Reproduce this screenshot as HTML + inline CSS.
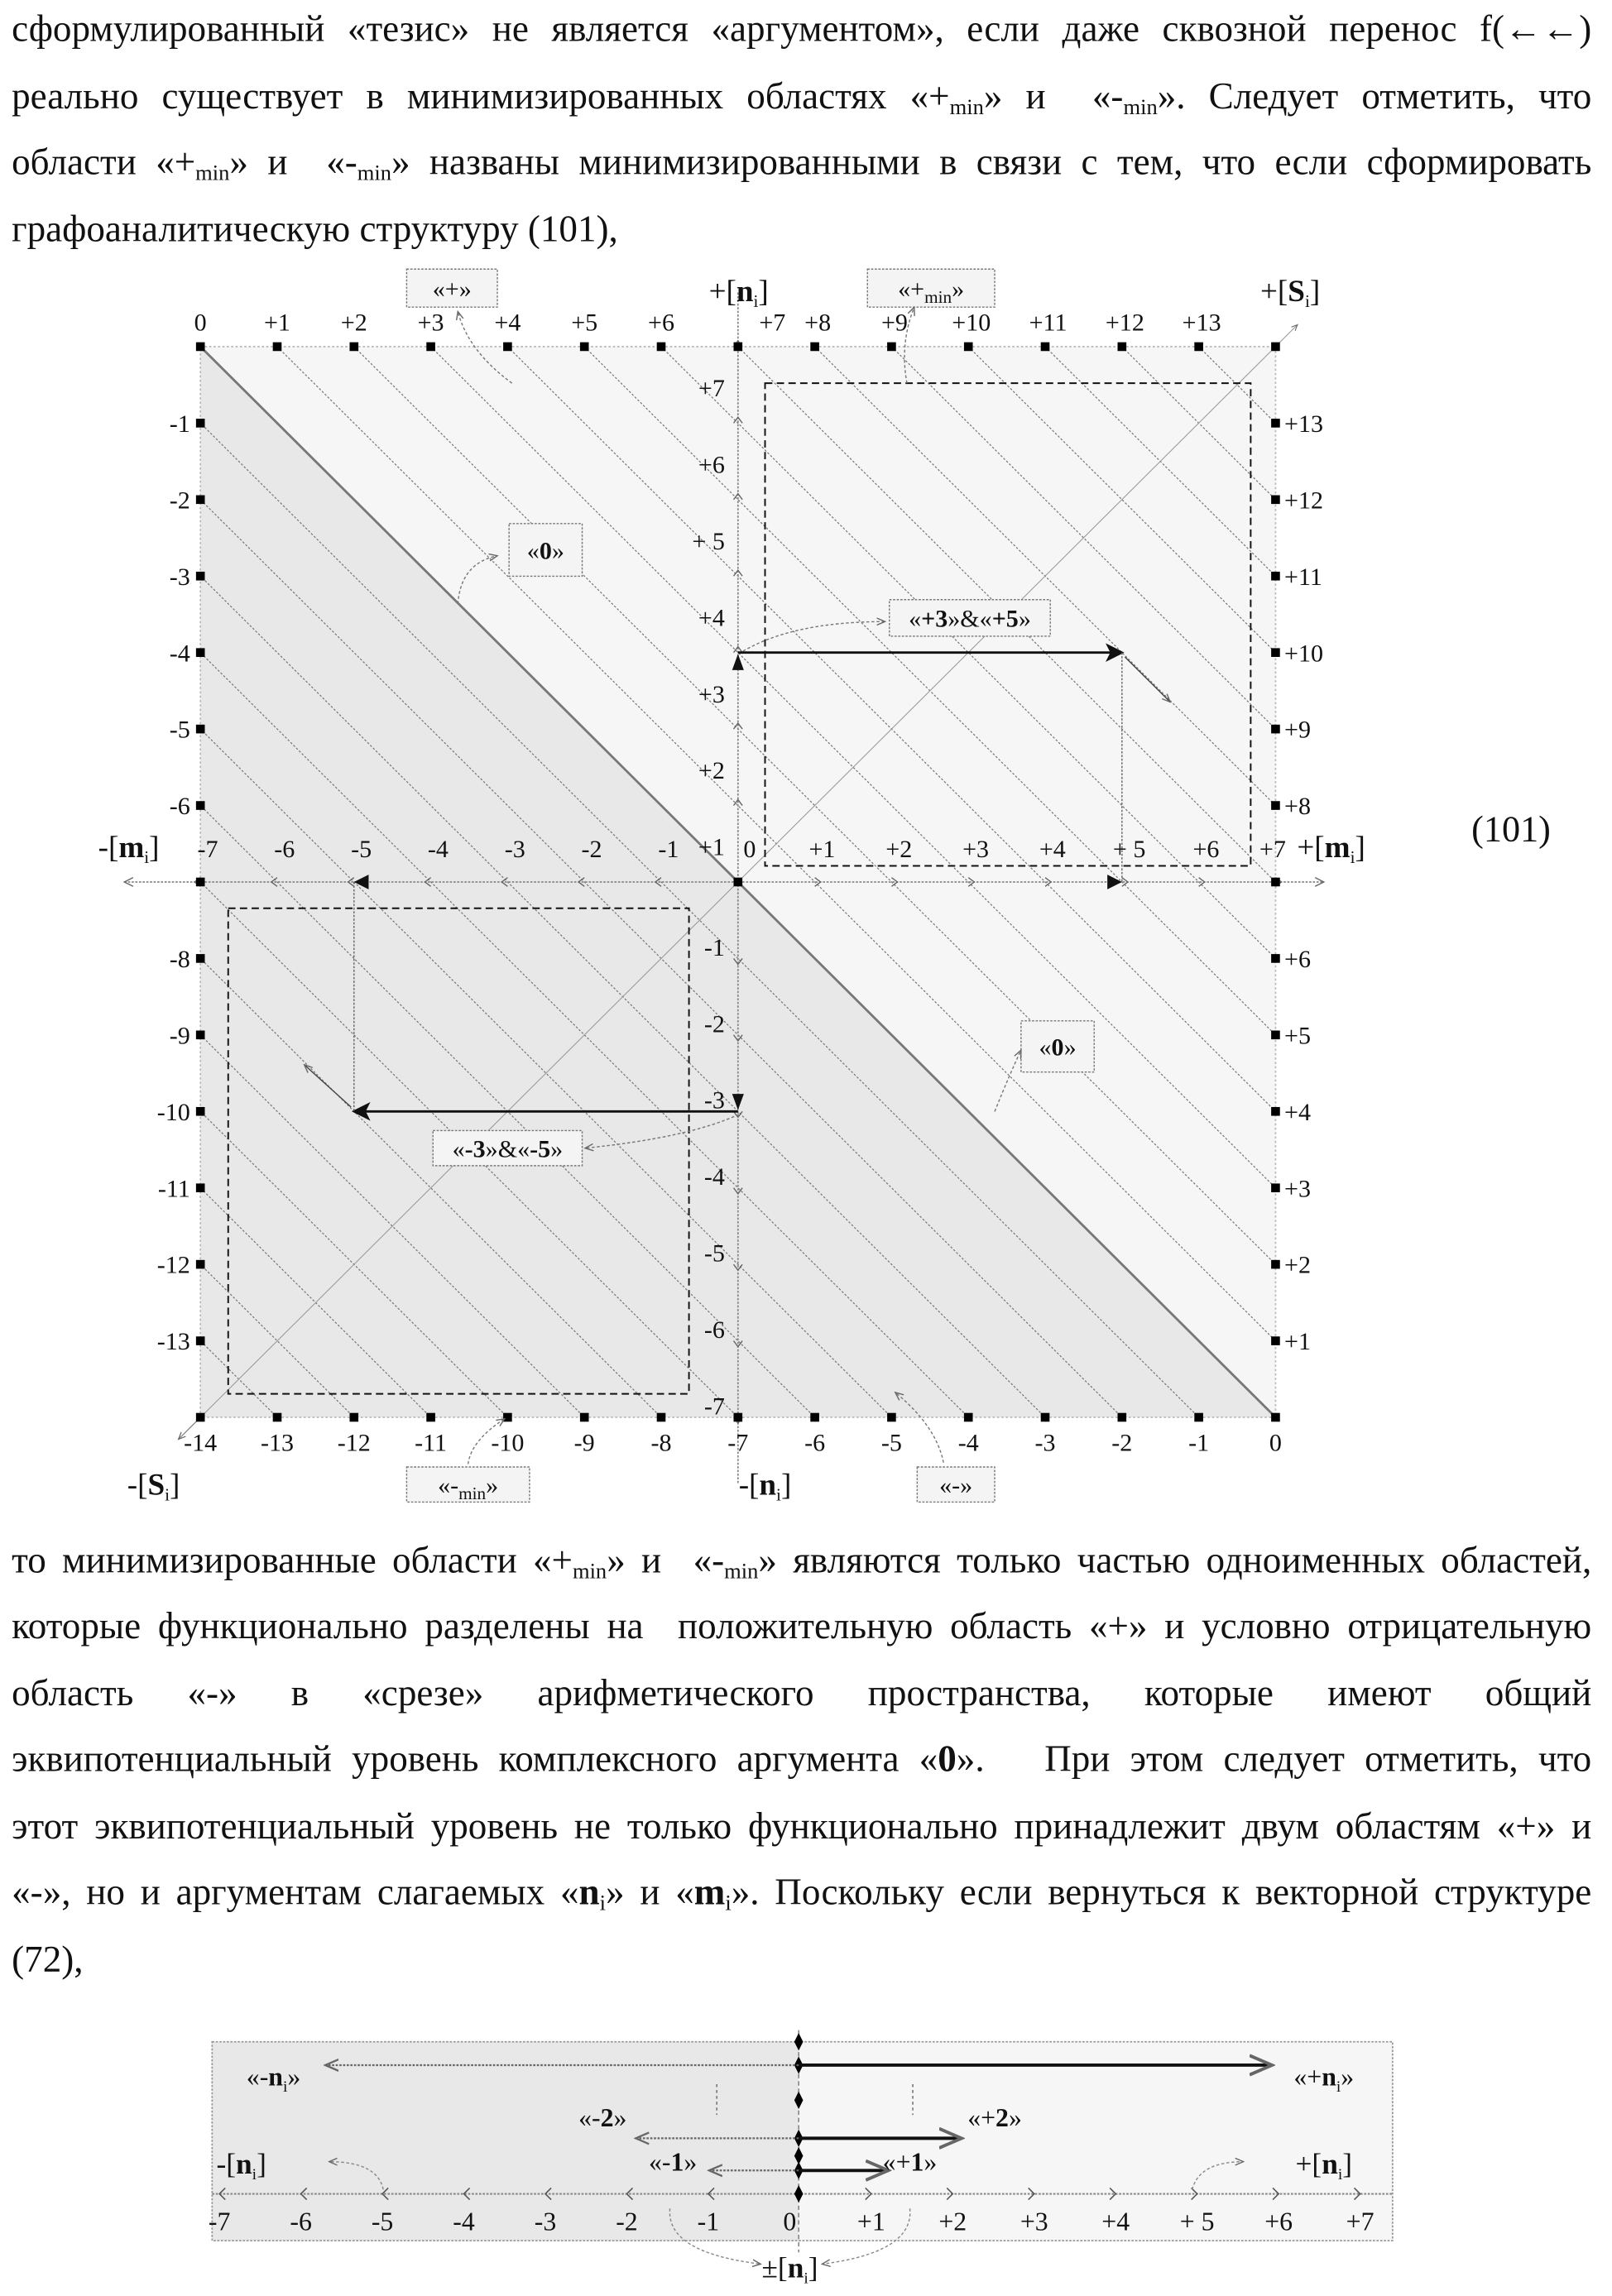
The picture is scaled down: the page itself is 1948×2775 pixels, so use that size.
<!DOCTYPE html>
<html><head><meta charset="utf-8">
<style>
html,body{margin:0;padding:0;background:#fff;}
#page{position:relative;width:1948px;height:2775px;overflow:hidden;background:#fff;}
#inner{position:absolute;left:0;top:0;width:1102px;height:1570px;transform:scale(1.7677);transform-origin:0 0;}
.ln{position:absolute;left:8px;width:1080px;font-family:"Liberation Serif",serif;font-size:25.5px;line-height:28px;color:#111;white-space:nowrap;text-align:justify;text-align-last:justify;}
.ln.nl{text-align-last:left;}
.ln sub{font-size:15px;vertical-align:-4px;line-height:0;}
svg text{font-family:"Liberation Serif",serif;fill:#111;}
</style></head><body>
<div id="page"><div id="inner">
<div class="ln" style="top:6px">сформулированный «тезис» не является «аргументом», если даже сквозной перенос f(←←)</div>
<div class="ln" style="top:52px">реально существует в минимизированных областях «+<sub>min</sub>» и &nbsp;«-<sub>min</sub>». Следует отметить, что</div>
<div class="ln" style="top:97px">области «+<sub>min</sub>» и &nbsp;«-<sub>min</sub>» названы минимизированными в связи с тем, что если сформировать</div>
<div class="ln nl" style="top:143px">графоаналитическую структуру (101),</div>

<div class="ln" style="top:1053px">то минимизированные области «+<sub>min</sub>» и &nbsp;«-<sub>min</sub>» являются только частью одноименных областей,</div>
<div class="ln" style="top:1098px">которые функционально разделены на &nbsp;положительную область «+» и условно отрицательную</div>
<div class="ln" style="top:1144px">область «-» в «срезе» арифметического пространства, которые имеют общий</div>
<div class="ln" style="top:1189px">эквипотенциальный уровень комплексного аргумента «<b>0</b>». &nbsp;&nbsp;При этом следует отметить, что</div>
<div class="ln" style="top:1235px">этот эквипотенциальный уровень не только функционально принадлежит двум областям «+» и</div>
<div class="ln" style="top:1280px">«-», но и аргументам слагаемых «<b>n</b><sub>i</sub>» и «<b>m</b><sub>i</sub>». Поскольку если вернуться к векторной структуре</div>
<div class="ln nl" style="top:1326px">(72),</div>

<svg id="chart" width="1102" height="1570" viewBox="0 0 1102 1570" style="position:absolute;left:0;top:0">
<defs>
<clipPath id="sq"><rect x="137" y="237" width="735" height="732"/></clipPath>
<marker id="ah" markerWidth="8" markerHeight="8" refX="7" refY="4" orient="auto"><path d="M0,0 L8,4 L0,8 L2,4z" fill="#111"/></marker>
<marker id="ahg" markerWidth="8" markerHeight="8" refX="7" refY="4" orient="auto"><path d="M0,1 L7,4 L0,7" fill="none" stroke="#666"/></marker>
</defs>
<g id="bg"></g><g id="hatch" clip-path="url(#sq)"></g><g id="fg"></g>
<text x="1033" y="575" font-size="25" text-anchor="middle">(101)</text>
</svg>

<svg id="fig2" width="1102" height="1570" viewBox="0 0 1102 1570" style="position:absolute;left:0;top:0"></svg>
</div></div>
<script>
// tick label arrays
const topLabels=["0","+1","+2","+3","+4","+5","+6","","+8","+9","+10","+11","+12","+13",""];
const bottomLabels=["-14","-13","-12","-11","-10","-9","-8","-7","-6","-5","-4","-3","-2","-1","0"];
const leftLabels=["","-1","-2","-3","-4","-5","-6","","-8","-9","-10","-11","-12","-13",""];
const rightLabels=["","+13","+12","+11","+10","+9","+8","","+6","+5","+4","+3","+2","+1",""];
const mLabels=["-7","-6","-5","-4","-3","-2","-1","0","+1","+2","+3","+4","+ 5","+6","+7"];
const nLabels=["+7","+6","+ 5","+4","+3","+2","+1","","-1","-2","-3","-4","-5","-6","-7"];
const nVec=3, mVec=5; // «+3»&«+5»
const axisLabels=["-7","-6","-5","-4","-3","-2","-1","0","+1","+2","+3","+4","+ 5","+6","+7"];
const vecLens=[7,2,1];

const NS="http://www.w3.org/2000/svg";
function el(p,t,a,txt){const e=document.createElementNS(NS,t);for(const k in a)e.setAttribute(k,a[k]);if(txt!==undefined)e.textContent=txt;p.appendChild(e);return e;}
const X0=137,Y0=237,DX=52.5,DY=52.29;
const X=i=>X0+i*DX, Y=j=>Y0+j*DY;
const bg=document.getElementById('bg'),hatch=document.getElementById('hatch'),fg=document.getElementById('fg');

let p=el(bg,'polygon',{points:`${X(0)},${Y(0)} ${X(14)},${Y(14)} ${X(0)},${Y(14)}`,fill:'#e8e8e8'});

p=el(bg,'polygon',{points:`${X(0)},${Y(0)} ${X(14)},${Y(0)} ${X(14)},${Y(14)}`,fill:'#f6f6f6'});

el(bg,'rect',{x:X(0),y:Y(0),width:X(14)-X(0),height:Y(14)-Y(0),fill:'none',stroke:'#bbb','stroke-width':1,'stroke-dasharray':'1.5 1.5'});
for(let k=-14;k<=14;k++){if(k===0)continue;
 const l=el(hatch,'line',{x1:X(k),y1:Y(0),x2:X(k+14),y2:Y(14),stroke:'#777','stroke-width':0.7,'stroke-dasharray':'1.5 1.2'});
 }
let d=el(fg,'line',{x1:X(0),y1:Y(0),x2:X(14),y2:Y(14),stroke:'#777','stroke-width':1.6});

d=el(fg,'line',{x1:X(0)-15,y1:Y(14)+15,x2:X(14)+15,y2:Y(0)-15,stroke:'#999','stroke-width':0.6,'marker-end':'url(#ahg)'});

el(fg,'line',{x1:X(0),y1:Y(14),x2:X(0)-15,y2:Y(14)+15,stroke:'#888','stroke-width':0.7,'marker-end':'url(#ahg)'});
// dashed boxes
d=el(fg,'rect',{x:523,y:262,width:332,height:330,fill:'none',stroke:'#111','stroke-width':1.1,'stroke-dasharray':'5 3'});

d=el(fg,'rect',{x:156,y:621,width:315,height:332,fill:'none',stroke:'#111','stroke-width':1.1,'stroke-dasharray':'5 3'});

// axes
d=el(fg,'line',{x1:85,y1:Y(7),x2:905,y2:Y(7),stroke:'#888','stroke-width':1,'stroke-dasharray':'1.5 1'});

d=el(fg,'line',{x1:X(7),y1:200,x2:X(7),y2:1015,stroke:'#888','stroke-width':1,'stroke-dasharray':'1.5 1'});

for(let i=0;i<=14;i++){ if(i===7)continue;
 const x=X(i)+(i<7?-4:4),s=i<7?1:-1;
 el(fg,'path',{d:`M${x+4*s},${Y(7)-3} L${x},${Y(7)} L${x+4*s},${Y(7)+3}`,fill:'none',stroke:'#666','stroke-width':0.8});
 const y=Y(i)+(i<7?-4:4);
 el(fg,'path',{d:`M${X(7)-3},${y+4*s} L${X(7)},${y} L${X(7)+3},${y+4*s}`,fill:'none',stroke:'#666','stroke-width':0.8});
}
el(fg,'path',{d:`M91,${Y(7)-3} L85,${Y(7)} L91,${Y(7)+3} M899,${Y(7)-3} L905,${Y(7)} L899,${Y(7)+3}`,fill:'none',stroke:'#666','stroke-width':0.8});
// markers
function mk(x,y,name){const r=el(fg,'rect',{x:x-3,y:y-3,width:6,height:6,fill:'#000'});}
for(let i=0;i<=14;i++){mk(X(i),Y(0),'top-marker');mk(X(i),Y(14),'bottom-marker');}
for(let j=1;j<14;j++){if(j===7)continue;mk(X(0),Y(j),'left-marker');mk(X(14),Y(j),'right-marker');}
mk(X(0),Y(7),'left-marker');mk(X(14),Y(7),'right-marker');mk(X(7),Y(7),'origin-marker');
// labels
function tx(x,y,s,txt,anchor,name){const t=el(fg,'text',{x:x,y:y,'font-size':s,'text-anchor':anchor||'middle'},txt);return t;}
topLabels.forEach((t,i)=>{if(t)tx(X(i)+(i>7?2:0),Y(0)-11,17,t,'middle','top-tick-label');});
tx(528,Y(0)-11,17,'+7','middle','top-tick-label');
bottomLabels.forEach((t,i)=>tx(X(i),Y(14)+23,17,t,'middle','bottom-tick-label'));
leftLabels.forEach((t,j)=>{if(t)tx(X(0)-7,Y(j)+6,17,t,'end','left-tick-label');});
rightLabels.forEach((t,j)=>{if(t)tx(X(14)+6,Y(j)+6,17,t,'start','right-tick-label');});
mLabels.forEach((t,i)=>tx(X(i)+(i===7?8:(i===14?-2:5)),Y(7)-17,17,t,'middle','m-tick-label'));
nLabels.forEach((t,j)=>{if(t)tx(X(7)-9,Y(j)+(j<7?34:-2),17,t,'end','n-tick-label');});
let t=tx(88,Y(7)-17,21,'','middle','m-axis-neg-title');t.innerHTML='-[<tspan font-weight="bold">m</tspan><tspan font-size="12" dy="4">i</tspan><tspan dy="-4">]</tspan>';
t=tx(910,Y(7)-17,21,'','middle','m-axis-pos-title');t.innerHTML='+[<tspan font-weight="bold">m</tspan><tspan font-size="12" dy="4">i</tspan><tspan dy="-4">]</tspan>';
t=tx(505,206,21,'','middle','n-axis-pos-title');t.innerHTML='+[<tspan font-weight="bold">n</tspan><tspan font-size="12" dy="4">i</tspan><tspan dy="-4">]</tspan>';
t=tx(523,1022,21,'','middle','n-axis-neg-title');t.innerHTML='-[<tspan font-weight="bold">n</tspan><tspan font-size="12" dy="4">i</tspan><tspan dy="-4">]</tspan>';
t=tx(882,206,21,'','middle','s-axis-pos-title');t.innerHTML='+[<tspan font-weight="bold">S</tspan><tspan font-size="12" dy="4">i</tspan><tspan dy="-4">]</tspan>';
t=tx(105,1022,21,'','middle','s-axis-neg-title');t.innerHTML='-[<tspan font-weight="bold">S</tspan><tspan font-size="12" dy="4">i</tspan><tspan dy="-4">]</tspan>';
// callout boxes
function box(x,y,w,h,html,name){const g=el(fg,'g',{});
 el(g,'rect',{x:x,y:y,width:w,height:h,fill:'#f4f4f4',stroke:'#777','stroke-width':0.8,'stroke-dasharray':'1.5 1'});
 const tt=el(g,'text',{x:x+w/2,y:y+h/2+6,'font-size':17,'text-anchor':'middle'});tt.innerHTML=html;}
box(278,184,62,26,'«+»','plus-callout');
box(593,184,87,26,'«+<tspan font-size="12" dy="4">min</tspan><tspan dy="-4">»</tspan>','plus-min-callout');
box(348,358,50,36,'«<tspan font-weight="bold">0</tspan>»','zero-callout-upper');
box(608,410,110,25,'«<tspan font-weight="bold">+3</tspan>»&amp;«<tspan font-weight="bold">+5</tspan>»','plus3-plus5-callout');
box(698,698,50,35,'«<tspan font-weight="bold">0</tspan>»','zero-callout-lower');
box(296,773,102,24,'«<tspan font-weight="bold">-3</tspan>»&amp;«<tspan font-weight="bold">-5</tspan>»','minus3-minus5-callout');
box(278,1003,84,24,'«-<tspan font-size="12" dy="4">min</tspan><tspan dy="-4">»</tspan>','minus-min-callout');
box(627,1003,53,24,'«-»','minus-callout');
// curved annotation arrows
[[350,262,320,240,313,213],[620,262,615,235,625,210],[313,413,315,385,340,380],[505,447,540,425,605,425],[680,760,690,735,698,718],[505,762,470,778,400,785],[320,1001,322,985,345,970],[645,1000,640,975,612,952]].forEach(c=>{
 const q=el(fg,'path',{d:`M${c[0]},${c[1]} Q${c[2]},${c[3]} ${c[4]},${c[5]}`,fill:'none',stroke:'#777','stroke-width':0.8,'stroke-dasharray':'2 1.5','marker-end':'url(#ahg)'});
 });
// vector arrows
const yn=Y(7-nVec), xm=X(7+mVec);
d=el(fg,'line',{x1:X(7),y1:yn,x2:xm,y2:yn,stroke:'#111','stroke-width':1.6,'marker-end':'url(#ah)'});

el(fg,'line',{x1:xm,y1:yn,x2:xm,y2:Y(7),stroke:'#666','stroke-width':0.8,'stroke-dasharray':'1.5 1'});
el(fg,'line',{x1:xm+2,y1:yn+3,x2:800,y2:480,stroke:'#444','stroke-width':0.8,'marker-end':'url(#ahg)'});
el(fg,'path',{d:`M${X(7)-4},${yn+12} L${X(7)},${yn+1} L${X(7)+4},${yn+12}z`,fill:'#111'});
el(fg,'path',{d:`M${xm-10},${Y(7)-5} L${xm},${Y(7)} L${xm-10},${Y(7)+5}z`,fill:'#111'});
const yn2=Y(7+nVec), xm2=X(7-mVec);
d=el(fg,'line',{x1:X(7),y1:yn2,x2:xm2,y2:yn2,stroke:'#111','stroke-width':1.6,'marker-end':'url(#ah)'});

el(fg,'line',{x1:xm2,y1:Y(7),x2:xm2,y2:yn2,stroke:'#666','stroke-width':0.8,'stroke-dasharray':'1.5 1'});
el(fg,'line',{x1:xm2-2,y1:yn2-3,x2:208,y2:728,stroke:'#444','stroke-width':0.8,'marker-end':'url(#ahg)'});
el(fg,'path',{d:`M${X(7)-4},${yn2-12} L${X(7)},${yn2-1} L${X(7)+4},${yn2-12}z`,fill:'#111'});
el(fg,'path',{d:`M${xm2+10},${Y(7)-5} L${xm2},${Y(7)} L${xm2+10},${Y(7)+5}z`,fill:'#111'});

// ===== figure 72 =====
const f=document.getElementById('fig2');
const AX0=150, AS=55.7, CX=546, AY=1500;
const AX=i=>AX0+i*AS;
let r=el(f,'rect',{x:145,y:1396,width:CX-145,height:136,fill:'#e8e8e8'});

r=el(f,'rect',{x:CX,y:1396,width:952-CX,height:136,fill:'#f6f6f6'});

el(f,'rect',{x:145,y:1396,width:807,height:136,fill:'none',stroke:'#999','stroke-width':1,'stroke-dasharray':'1.5 1'});
el(f,'line',{x1:CX,y1:1388,x2:CX,y2:1540,stroke:'#777','stroke-width':0.8,'stroke-dasharray':'3 2'});
d=el(f,'line',{x1:145,y1:AY,x2:952,y2:AY,stroke:'#888','stroke-width':1.2,'stroke-dasharray':'1.5 1'});

axisLabels.forEach((s,i)=>{
 const x=AX(i);
 if(i!==7){const sg=i<7?1:-1;el(f,'path',{d:`M${x+4*sg},${AY-4} L${x},${AY} L${x+4*sg},${AY+4}`,fill:'none',stroke:'#555','stroke-width':0.9});}
 const tt=el(f,'text',{x:x,y:AY+25,'font-size':18,'text-anchor':'middle'},s);
 
});
function diamond(y){el(f,'path',{d:`M${CX},${y-6} L${CX+3},${y} L${CX},${y+6} L${CX-3},${y}z`,fill:'#000'});}
[1396,1412,1436,1462,1474,1484,1500].forEach(diamond);
const rowsY=[1412,1462,1484];
vecLens.forEach((L,k)=>{
 const y=rowsY[k];
 const sc=k===0?0.83:(k===1?1:1.1);
 const a=el(f,'line',{x1:CX,y1:y,x2:CX-L*AS*sc,y2:y,stroke:'#666','stroke-width':1.3,'stroke-dasharray':'1.5 1','marker-end':'url(#ahg)'});
 
 const b=el(f,'line',{x1:CX,y1:y,x2:CX+L*AS*sc,y2:y,stroke:'#111','stroke-width':2.2,'marker-end':'url(#ahg)'});
 
});
function t2(x,y,html,name,size){const tt=el(f,'text',{x:x,y:y,'font-size':size||18,'text-anchor':'middle'});tt.innerHTML=html;}
t2(187,1426,'«-<tspan font-weight="bold">n</tspan><tspan font-size="11" dy="4">i</tspan><tspan dy="-4">»</tspan>','label-minus-n');
t2(905,1426,'«+<tspan font-weight="bold">n</tspan><tspan font-size="11" dy="4">i</tspan><tspan dy="-4">»</tspan>','label-plus-n');
t2(412,1454,'«-<tspan font-weight="bold">2</tspan>»','label-minus-2');
t2(680,1454,'«+<tspan font-weight="bold">2</tspan>»','label-plus-2');
t2(460,1484,'«-<tspan font-weight="bold">1</tspan>»','label-minus-1');
t2(622,1484,'«+<tspan font-weight="bold">1</tspan>»','label-plus-1');
t2(165,1486,'-[<tspan font-weight="bold">n</tspan><tspan font-size="11" dy="4">i</tspan><tspan dy="-4">]</tspan>','label-neg-axis',20);
t2(905,1486,'+[<tspan font-weight="bold">n</tspan><tspan font-size="11" dy="4">i</tspan><tspan dy="-4">]</tspan>','label-pos-axis',20);
t2(540,1557,'±[<tspan font-weight="bold">n</tspan><tspan font-size="11" dy="4">i</tspan><tspan dy="-4">]</tspan>','label-pm-axis',20);
el(f,'line',{x1:490,y1:1425,x2:490,y2:1446,stroke:'#666','stroke-width':0.8,'stroke-dasharray':'2 2'});
el(f,'line',{x1:624,y1:1425,x2:624,y2:1446,stroke:'#666','stroke-width':0.8,'stroke-dasharray':'2 2'});
[[262,1497,258,1478,225,1478],[815,1497,820,1478,850,1478],[458,1510,455,1540,520,1548],[622,1510,625,1540,562,1548]].forEach(c=>{
 el(f,'path',{d:`M${c[0]},${c[1]} Q${c[2]},${c[3]} ${c[4]},${c[5]}`,fill:'none',stroke:'#888','stroke-width':0.8,'stroke-dasharray':'2 1.5','marker-end':'url(#ahg)'});});
</script>
</body></html>
